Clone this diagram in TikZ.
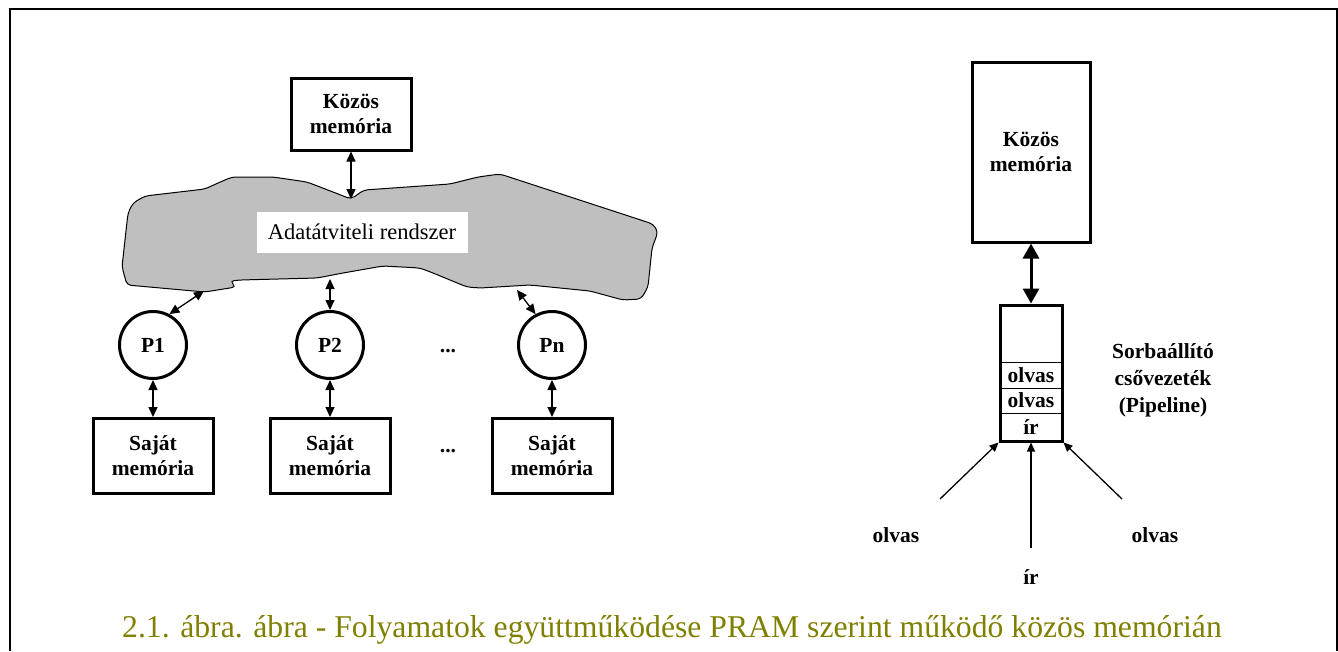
\documentclass[tikz,border=0pt]{standalone}
\usepackage{fontspec}
\setmainfont{Liberation Serif}
\usetikzlibrary{arrows.meta}
\definecolor{olivo}{RGB}{128,128,0}
\tikzset{
  caja/.style={draw, line width=3pt, fill=white, align=center, inner sep=0pt,
    font=\fontsize{21.5}{25}\selectfont\bfseries},
  proc/.style={draw, circle, line width=3pt, minimum size=67pt, inner sep=0pt,
    font=\fontsize{21.5}{25}\selectfont\bfseries},
  texto/.style={align=center, inner sep=0pt, font=\fontsize{21.5}{27}\selectfont\bfseries},
  flecha/.style={{Triangle[length=10pt,width=9pt]}-{Triangle[length=10pt,width=9pt]}, line width=1.3pt},
  flechagorda/.style={{Triangle[length=15pt,width=16pt]}-{Triangle[length=15pt,width=16pt]}, line width=3pt},
  entrada/.style={-{Triangle[length=9pt,width=8pt]}, line width=1.3pt}
}
\begin{document}
\begin{tikzpicture}[x=1pt,y=-1pt]
\useasboundingbox (0,0) rectangle (1338,651);
% El marco de la figura
\draw[line width=2pt] (10,651) -- (10,9) -- (1337,9) -- (1337,651);

% La nube del sistema de transferencia
\filldraw[fill=black!25, draw=black, line width=1pt, rounded corners=4pt]
  (133,203) -- (145,196) -- (205,189) -- (218,183) -- (232,177) -- (273,177)
  -- (307,182) -- (333,192) -- (351,199) -- (364,190) -- (450,184) -- (478,177)
  -- (500,174) -- (653,224) -- (658,232) -- (652,248) -- (648,287) -- (641,299)
  -- (623,300) -- (590,291) -- (530,285) -- (480,288) -- (467,287) -- (433,273)
  -- (420,268) -- (383,266) -- (343,273) -- (317,278) -- (240,280) -- (230,281)
  -- (236,287) -- (205,292) -- (127,285) -- (122,267) -- (128,213) -- cycle;
\node[fill=white, minimum width=211pt, minimum height=41pt, inner sep=0pt,
  font=\fontsize{22.5}{26}\selectfont] (red) at (362,232) {Adatátviteli rendszer};
\coordinate (ntop) at (351,199);
\coordinate (n1) at (204,291);
\coordinate (n2) at (330,279);
\coordinate (n3) at (517,290);

% Memoria comun de la izquierda
\node[caja, minimum width=120pt, minimum height=72pt] (comun) at (351,114) {Közös\\memória};
\draw[flecha] (comun.south) -- (ntop);

% Los procesadores y sus memorias
\foreach \x/\n/\t in {153/1/P1, 330/2/P2, 552/n/Pn} {
  \node[proc] (p\n) at (\x,345) {\t};
  \node[caja, minimum width=120pt, minimum height=75pt] (m\n) at (\x,456) {Saját\\memória};
  \draw[flecha] (p\n.south) -- (m\n.north);
}
\draw[flecha] (n1) -- (p1.62);
\draw[flecha] (n2) -- (p2.north);
\draw[flecha] (n3) -- (pn.118);
\node[texto] (pontos1) at (448,351) {...};
\node[texto] (pontos2) at (448,451) {...};

% Memoria comun de la derecha y la cola
\node[caja, minimum width=118pt, minimum height=180pt] (comun2) at (1031,152) {Közös\\memória};
\node[caja, minimum width=62pt, minimum height=136pt] (cola) at (1031,373) {};
\draw[flechagorda] (comun2.south) -- (cola.north);
\draw[line width=1pt] (1000,362) -- (1062,362);
\draw[line width=1pt] (1000,388) -- (1062,388);
\draw[line width=1pt] (1000,413) -- (1062,413);
\node[texto] (c1) at (1031,375) {olvas};
\node[texto] (c2) at (1031,400.5) {olvas};
\node[texto] (c3) at (1031,427) {ír};
\node[texto] (nombre) at (1163,380) {Sorbaállító\\csővezeték\\(Pipeline)};

% Las peticiones que llegan
\node[texto] (e1) at (896,535) {olvas};
\node[texto] (e2) at (1031,577) {ír};
\node[texto] (e3) at (1155,535) {olvas};
\coordinate (t1) at (940,499);
\coordinate (t2) at (1031,548);
\coordinate (t3) at (1122,499);
\draw[entrada] (t1) -- (cola.south west);
\draw[entrada] (t2) -- (cola.south);
\draw[entrada] (t3) -- (cola.south east);

% El pie de la figura
\node[text=olivo, inner sep=0pt, font=\fontsize{31.7}{36}\selectfont] (pie) at (672,630)
  {2.1. ábra. ábra - Folyamatok együttműködése PRAM szerint működő közös memórián};
\end{tikzpicture}
\end{document}
